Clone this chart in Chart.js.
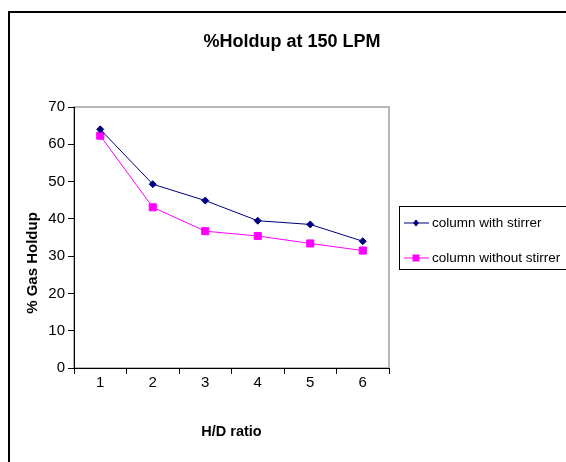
<!DOCTYPE html>
<html lang="en">
<head>
  <meta charset="UTF-8">
  <title>% Holdup at 150 LPM</title>
  <script src="https://cdn.jsdelivr.net/npm/chart.js"></script>
  <style>
    body {
      margin: 0;
      background-color: #ffffff;
      font-family: 'Liberation Sans', Arial, sans-serif;
    }
    .wrap {
      position: relative;
      width: 566px;
      height: 462px;
      overflow: hidden;
    }
    /* outer chart frame, runs past the right and bottom edges */
    .frame {
      position: absolute;
      left: 8px;
      top: 11px;
      width: 600px;
      height: 500px;
      border-left: 2px solid #000;
      border-top: 2px solid #000;
      pointer-events: none;
    }
  </style>
</head>
<body>

  <div class="wrap">
    <canvas id="holdupChart"></canvas>
    <div class="frame"></div>
  </div>

  <script>
    // values
    const hdRatios = ['1', '2', '3', '4', '5', '6'];
    const withStirrer = [64.0, 49.3, 44.9, 39.5, 38.5, 34.0];
    const withoutStirrer = [62.3, 43.1, 36.7, 35.4, 33.4, 31.5];
    const seriesNames = ['column with stirrer', 'column without stirrer'];
    const yMin = 0;
    const yMax = 70;
    const yStep = 10;

    const FONT = "'Liberation Sans', Arial, sans-serif";

    // title, rotated y title, gray plot frame and the boxed legend
    const excelLook = {
      id: 'excelLook',
      beforeDraw(chart) {
        const { ctx, chartArea: a } = chart;
        ctx.save();
        ctx.fillStyle = '#fff';
        ctx.fillRect(0, 0, chart.width, chart.height);
        ctx.strokeStyle = '#a0a0a0';
        ctx.lineWidth = 1.5;
        ctx.strokeRect(a.left, a.top, a.right - a.left, a.bottom - a.top);
        ctx.restore();
      },
      afterDraw(chart) {
        const ctx = chart.ctx;
        ctx.save();
        ctx.fillStyle = '#000';
        ctx.textAlign = 'center';
        ctx.textBaseline = 'middle';

        ctx.font = 'bold 18px ' + FONT;
        ctx.fillText('%Holdup at 150 LPM', 292, 42);

        ctx.save();
        ctx.translate(33, 263);
        ctx.rotate(-Math.PI / 2);
        ctx.font = 'bold 15px ' + FONT;
        ctx.fillText('% Gas Holdup', 0, 0);
        ctx.restore();

        // legend
        ctx.strokeStyle = '#000';
        ctx.lineWidth = 1;
        ctx.strokeRect(399.5, 206.5, 200, 63);
        ctx.font = '13.5px ' + FONT;
        ctx.textAlign = 'left';
        const rows = [223, 258];
        chart.data.datasets.forEach((ds, i) => {
          const y = rows[i];
          ctx.strokeStyle = ds.borderColor;
          ctx.lineWidth = 1;
          ctx.beginPath();
          ctx.moveTo(404, y);
          ctx.lineTo(429, y);
          ctx.stroke();
          ctx.fillStyle = ds.pointBackgroundColor;
          ctx.beginPath();
          if (ds.pointStyle === 'rectRot') {
            ctx.moveTo(416, y - 3.5);
            ctx.lineTo(419, y);
            ctx.lineTo(416, y + 3.5);
            ctx.lineTo(413, y);
            ctx.closePath();
          } else {
            ctx.rect(412.5, y - 3.5, 7, 7);
          }
          ctx.fill();
          ctx.fillStyle = '#000';
          ctx.fillText(ds.label, 432, y);
        });
        ctx.restore();
      }
    };

    new Chart(document.getElementById('holdupChart'), {
      type: 'line',
      data: {
        labels: hdRatios,
        datasets: [
          {
            label: seriesNames[0],
            data: withStirrer,
            borderColor: '#000080',
            backgroundColor: '#000080',
            pointBackgroundColor: '#000080',
            pointBorderColor: '#000080',
            pointStyle: 'rectRot',
            pointRadius: 3.5,
            borderWidth: 1,
            tension: 0
          },
          {
            label: seriesNames[1],
            data: withoutStirrer,
            borderColor: '#ff00ff',
            backgroundColor: '#ff00ff',
            pointBackgroundColor: '#ff00ff',
            pointBorderColor: '#ff00ff',
            pointStyle: 'rect',
            pointRadius: 5,
            borderWidth: 1,
            tension: 0
          }
        ]
      },
      options: {
        responsive: true,
        maintainAspectRatio: false,
        animation: false,
        layout: { padding: { left: 0, top: 107, right: 177, bottom: 0 } },
        plugins: {
          legend: { display: false },
          title: { display: false },
          tooltip: { enabled: false }
        },
        scales: {
          x: {
            offset: true,
            grid: { offset: true, drawOnChartArea: false, tickLength: 6, color: '#000' },
            border: { color: '#000', width: 1 },
            ticks: { color: '#000', padding: 0, font: { family: FONT, size: 15 } },
            title: {
              display: true,
              text: 'H/D ratio',
              color: '#000',
              font: { family: FONT, size: 14.5, weight: 'bold' },
              padding: { top: 0, bottom: 21 }
            },
            afterFit(scale) { scale.height = 94; }
          },
          y: {
            min: yMin,
            max: yMax,
            grid: { drawOnChartArea: false, tickLength: 6, color: '#000' },
            border: { color: '#000', width: 1 },
            ticks: { stepSize: yStep, color: '#000', padding: 3, font: { family: FONT, size: 15 } },
            afterFit(scale) { scale.width = 74; }
          }
        }
      },
      plugins: [excelLook]
    });
  </script>

</body>
</html>
